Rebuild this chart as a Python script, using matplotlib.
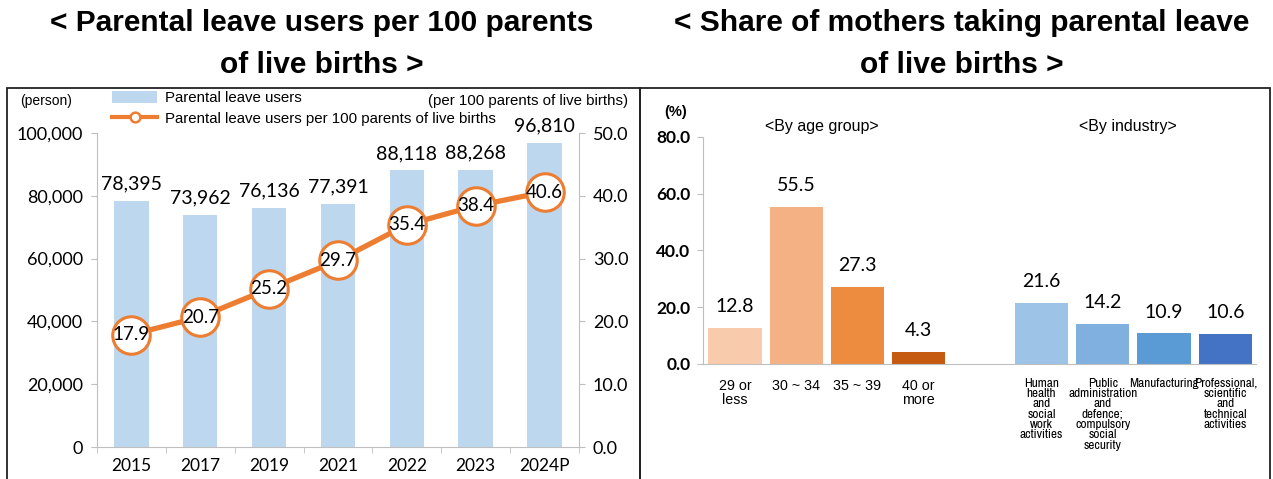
import numpy as np
import matplotlib
matplotlib.use("Agg")
import matplotlib.pyplot as plt
from matplotlib import font_manager
from matplotlib.font_manager import FontProperties
from matplotlib.patches import Rectangle, Patch
from matplotlib.lines import Line2D

# ---- data ----
years = ["2015", "2017", "2019", "2021", "2022", "2023", "2024P"]
leave_users = [78395, 73962, 76136, 77391, 88118, 88268, 96810]
users_per_100 = [17.9, 20.7, 25.2, 29.7, 35.4, 38.4, 40.6]

age_groups = ["29 or\nless", "30 ~ 34", "35 ~ 39", "40 or\nmore"]
age_share = [12.8, 55.5, 27.3, 4.3]
age_colors = ["#F8CBAD", "#F4B183", "#ED8B3E", "#C55A11"]

industries = ["Human\nhealth\nand\nsocial\nwork\nactivities",
              "Public\nadministration\nand\ndefence;\ncompulsory\nsocial\nsecurity",
              "Manufacturing",
              "Professional,\nscientific\nand\ntechnical\nactivities"]
industry_share = [21.6, 14.2, 10.9, 10.6]
industry_colors = ["#9DC3E6", "#7FB0E0", "#5B9BD5", "#4472C4"]

W, H = 1273, 479
NUM = "Lato"
TXT = "Liberation Sans"
GREY = "#BFBFBF"
ORANGE = "#ED7D31"


def pick_narrow():
    # the industry labels are set in a narrow face in the original
    fonts = font_manager.fontManager.ttflist
    for f in fonts:
        if "narrow" in f.name.lower() and f.weight in (400, "normal", "regular") and f.style == "normal":
            return FontProperties(fname=f.fname, size=9.5)
    for f in fonts:
        if (f.stretch in ("condensed", "semi-condensed") or "condensed" in f.name.lower()) \
                and f.weight in (400, "normal", "regular") and f.style == "normal":
            return FontProperties(fname=f.fname, size=8.75)
    return FontProperties(family="Roboto", size=8.2)


NARROW = pick_narrow()


def fx(px):
    return px / W


def fy(py):
    return 1 - py / H


fig = plt.figure(figsize=(W / 100, H / 100), dpi=100)

# panel titles
title_kw = dict(ha="center", va="center", fontsize=21.5, fontweight="bold", family=TXT)
fig.text(fx(322), fy(23), "< Parental leave users per 100 parents", **title_kw)
fig.text(fx(322), fy(65), "of live births >", **title_kw)
fig.text(fx(962), fy(23), "< Share of mothers taking parental leave", **title_kw)
fig.text(fx(962), fy(65), "of live births >", **title_kw)

# panel frames
for x0, x1 in [(7, 640), (640, 1270)]:
    fig.patches.append(Rectangle((fx(x0), -0.05), fx(x1) - fx(x0), fy(88) + 0.05,
                                 transform=fig.transFigure, fill=False,
                                 edgecolor="#222222", linewidth=1.3))

# ---------------- left chart ----------------
ax = fig.add_axes([fx(97), fy(447), fx(579) - fx(97), fy(133) - fy(447)])
x = np.arange(len(years))
ax.bar(x, leave_users, width=0.5, color="#BDD7EE", zorder=2)
ax.set_xlim(-0.5, len(years) - 0.5)
ax.set_ylim(0, 100000)
ax.set_yticks(np.arange(0, 100001, 20000))
ax.set_yticklabels([f"{v:,}" for v in range(0, 100001, 20000)], family=NUM, fontsize=13)
ax.set_xticks(x)
ax.set_xticklabels(years, family=NUM, fontsize=12.5)
ax.set_xticks(np.arange(-0.5, len(years)), minor=True)
ax.tick_params(axis="x", which="major", length=0, pad=8)
ax.tick_params(axis="x", which="minor", length=4, color=GREY)
ax.tick_params(axis="y", length=4, color=GREY, pad=6)
for s in ["top", "right"]:
    ax.spines[s].set_visible(False)
for s in ["left", "bottom"]:
    ax.spines[s].set_color(GREY)
for xi, v in zip(x, leave_users):
    ax.annotate(f"{v:,}", (xi, v), xytext=(0, 6), textcoords="offset points",
                ha="center", va="bottom", family=NUM, fontsize=14)

ax2 = ax.twinx()
ax2.plot(x, users_per_100, color=ORANGE, linewidth=3.8, marker="o", markersize=27,
         markerfacecolor="white", markeredgecolor=ORANGE, markeredgewidth=2.2, zorder=3)
for xi, v in zip(x, users_per_100):
    ax2.text(xi, v, f"{v:.1f}", ha="center", va="center", family=NUM, fontsize=13.5, zorder=4)
ax2.set_ylim(0, 50)
ax2.set_yticks(np.arange(0, 51, 10))
ax2.set_yticklabels([f"{v:.1f}" for v in range(0, 51, 10)], family=NUM, fontsize=13)
ax2.tick_params(axis="y", length=4, color=GREY, pad=6)
for s in ["top", "left", "bottom"]:
    ax2.spines[s].set_visible(False)
ax2.spines["right"].set_color(GREY)

fig.text(fx(20), fy(101), "(person)", ha="left", va="center", family=TXT, fontsize=10)
fig.text(fx(628), fy(101), "(per 100 parents of live births)", ha="right", va="center",
         family=TXT, fontsize=10.8)
handles = [Patch(facecolor="#BDD7EE", edgecolor="none"),
           Line2D([], [], color=ORANGE, linewidth=3, marker="o", markersize=7,
                  markerfacecolor="white", markeredgecolor=ORANGE, markeredgewidth=1.8)]
fig.legend(handles, ["Parental leave users", "Parental leave users per 100 parents of live births"],
           loc="upper left", bbox_to_anchor=(fx(112), fy(91)), frameon=False,
           prop={"family": TXT, "size": 10.8}, handlelength=3.0, handleheight=0.8,
           labelspacing=0.45, borderaxespad=0, borderpad=0, handletextpad=0.55)

# ---------------- right chart ----------------
bx = fig.add_axes([fx(703), fy(364), fx(1256) - fx(703), fy(137) - fy(364)])
age_pos = np.arange(len(age_groups))
ind_pos = np.arange(len(industries)) + len(age_groups) + 1
bx.bar(age_pos, age_share, width=0.87, color=age_colors, zorder=2)
bx.bar(ind_pos, industry_share, width=0.87, color=industry_colors, zorder=2)
for xi, v in zip(np.concatenate([age_pos, ind_pos]), age_share + industry_share):
    bx.annotate(f"{v:.1f}", (xi, v), xytext=(0, 9), textcoords="offset points",
                ha="center", va="bottom", family=NUM, fontsize=14)
bx.set_xlim(-0.52, ind_pos[-1] + 0.5)
bx.set_ylim(0, 80)
bx.set_yticks(np.arange(0, 81, 20))
bx.set_yticklabels([f"{v:.1f}" for v in range(0, 81, 20)], family=NUM, fontsize=12.5,
                   fontweight="bold")
bx.tick_params(axis="y", length=4, color=GREY, pad=5)
bx.set_xticks([])
for s in ["top", "right"]:
    bx.spines[s].set_visible(False)
for s in ["left", "bottom"]:
    bx.spines[s].set_color(GREY)
for xi, lab in zip(age_pos, age_groups):
    bx.annotate(lab, (xi, 0), xytext=(0, -11), textcoords="offset points", ha="center",
                va="top", family=TXT, fontsize=10.3, linespacing=0.95)
for xi, lab in zip(ind_pos, industries):
    bx.annotate(lab, (xi, 0), xytext=(0, -10), textcoords="offset points", ha="center",
                va="top", fontproperties=NARROW, linespacing=0.92)

fig.text(fx(676), fy(112), "(%)", ha="center", va="center", family=TXT, fontsize=10.5,
         fontweight="bold")
fig.text(fx(822), fy(126), "<By age group>", ha="center", va="center", family=TXT, fontsize=11.5)
fig.text(fx(1128), fy(126), "<By industry>", ha="center", va="center", family=TXT, fontsize=11.5)

fig.savefig("out.png", dpi=100)
